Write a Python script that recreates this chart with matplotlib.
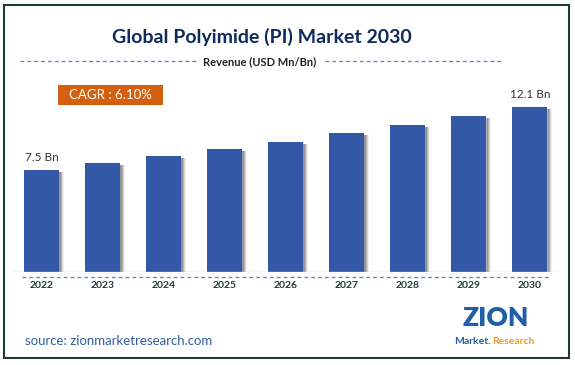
import matplotlib.pyplot as plt
from matplotlib.patches import Rectangle
from matplotlib.lines import Line2D

years = ['2022', '2023', '2024', '2025', '2026', '2027', '2028', '2029', '2030']
revenue = [7.5, 8.0, 8.5, 9.0, 9.5, 10.2, 10.8, 11.4, 12.1]
value_labels = {0: '7.5 Bn', 8: '12.1 Bn'}

W, H = 575, 365
fig = plt.figure(figsize=(W / 100, H / 100), dpi=100)
fig.patch.set_facecolor('white')

def fx(px):
    return px / W

def fy(py):
    return 1 - py / H

# outer frame
fig.patches.append(Rectangle((fx(4), fy(358)), fx(565), (358 - 5) / H,
                             transform=fig.transFigure, fill=False,
                             edgecolor='#1e3d2f', linewidth=1.5))

# title and subtitle
fig.text(fx(262), fy(37), 'Global Polyimide (PI) Market 2030', ha='center', va='center',
         fontsize=14, fontweight='bold', color='#0f2a5c', family='Lato')
fig.text(fx(260), fy(62), 'Revenue (USD Mn/Bn)', ha='center', va='center',
         fontsize=8, fontweight='bold', color='#222222', family='Lato')
for x0, x1 in [(20, 196), (325, 502)]:
    fig.lines.append(Line2D([fx(x0), fx(x1)], [fy(61), fy(61)], transform=fig.transFigure,
                            color='#5a7fc8', linewidth=0.9, linestyle=(0, (3, 2.5))))

# CAGR box
fig.patches.append(Rectangle((fx(58), fy(105)), fx(105), 20 / H, transform=fig.transFigure,
                             facecolor='#d4600f', edgecolor='none'))
fig.text(fx(110), fy(95), 'CAGR : 6.10%', ha='center', va='center',
         fontsize=9.5, color='white', family='Lato')

# bar chart
ax = fig.add_axes([fx(12), fy(272), fx(546), 182 / H])
ax.set_xlim(-0.49, 8.46)
ax.set_ylim(0, 182 / 13.65)
x = list(range(len(years)))

# soft shadow to the right of bars
for i, a in enumerate([0.45, 0.3, 0.18, 0.08]):
    ax.bar([v + 0.27 + i * 0.018 for v in x], [r - 0.15 for r in revenue], width=0.04,
           color='#555555', alpha=a, align='edge', linewidth=0, zorder=1)
ax.bar(x, revenue, width=0.575, color='#3358a8', zorder=2)

for i, lab in value_labels.items():
    ax.text(i, revenue[i] + 0.5, lab, ha='center', va='bottom', fontsize=8.5,
            color='#333333', family='Lato')

ax.axis('off')
ax.axhline(0, color='#d0d0d0', linewidth=1, zorder=3)

fig.lines.append(Line2D([fx(22), fx(550)], [fy(276.5), fy(276.5)], transform=fig.transFigure,
                        color='#5a7fc8', linewidth=0.9, linestyle=(0, (3, 2.5))))

for i, yr in enumerate(years):
    fig.text(fx(42 + 61 * i), fy(286), yr, ha='center', va='center', fontsize=7.5,
             fontweight='bold', color='#1e3d2f', family='Lato')

# source
fig.text(fx(25), fy(341), 'source: zionmarketresearch.com', ha='left', va='center',
         fontsize=9.5, color='#2f5f9f', family='Lato')

# logo (text approximation)
fig.text(fx(496), fy(318), 'ZION', ha='center', va='center', fontsize=19,
         fontweight='heavy', color='#1f5fa8', family='Lato')
fig.text(fx(491), fy(341), 'Market.', ha='right', va='center', fontsize=7.5,
         fontweight='bold', color='#1f5fa8', family='Lato')
fig.text(fx(492), fy(341), 'Research', ha='left', va='center', fontsize=7.5,
         fontweight='bold', color='#f39a1e', family='Lato')

fig.savefig('out.png', dpi=100, facecolor='white')
